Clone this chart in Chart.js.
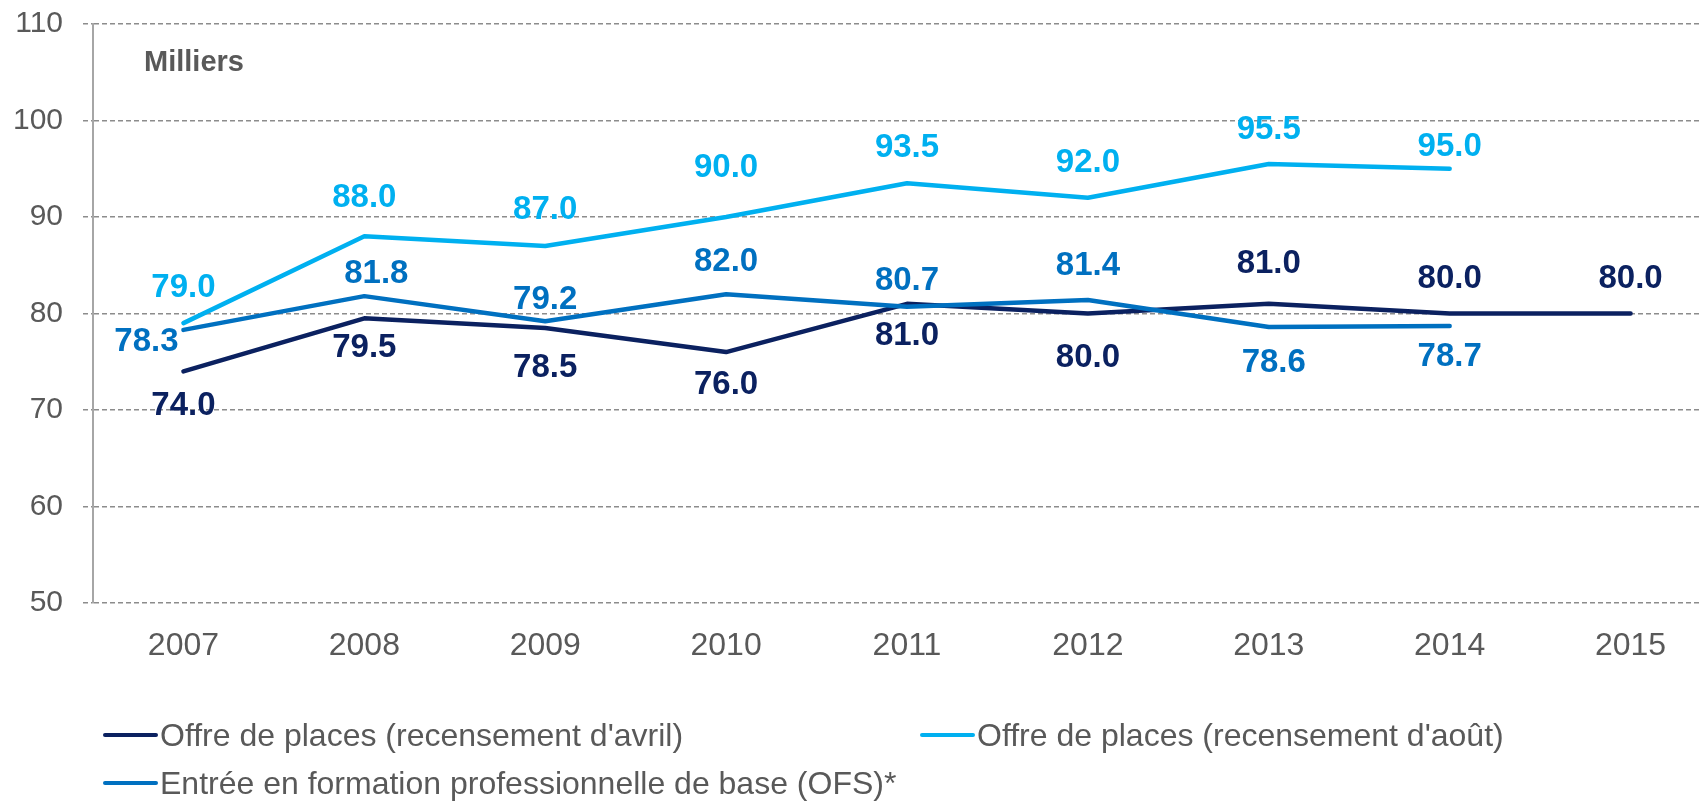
<!DOCTYPE html>
<html lang="fr">
<head>
<meta charset="utf-8">
<title>Offre de places</title>
<script src="https://cdn.jsdelivr.net/npm/chart.js@4"></script>
<style>
    html, body {
        margin: 0;
        padding: 0;
        background: #ffffff;
        overflow: hidden;
        width: 1701px;
        height: 801px;
        font-family: "Liberation Sans", Arial, sans-serif;
        color: #595959;
    }
    #wrap {
        position: absolute;
        left: 0;
        top: 0;
        width: 1721px;
        height: 801px;
    }
    #unit {
        position: absolute;
        left: 144px;
        top: 45px;
        font-size: 29px;
        font-weight: bold;
        color: #595959;
    }
    #customLegend {
        position: absolute;
        left: 103px;
        top: 711px;
        display: grid;
        grid-template-columns: 817px auto;
        grid-auto-rows: 48px;
    }
    .legend-item {
        display: flex;
        align-items: center;
        font-size: 32px;
        color: #595959;
        white-space: nowrap;
    }
    .legend-line {
        display: inline-block;
        width: 55px;
        height: 4px;
        border-radius: 2px;
        margin-right: 2px;
    }
</style>
</head>
<body>
<div id="wrap">
    <canvas id="lineChart" width="1721" height="801"></canvas>
</div>
<div id="unit">Milliers</div>
<div id="customLegend"></div>
<script>
var years = ["2007", "2008", "2009", "2010", "2011", "2012", "2013", "2014", "2015"];
var avrilData = [74.0, 79.5, 78.5, 76.0, 81.0, 80.0, 81.0, 80.0, 80.0];
var aoutData = [79.0, 88.0, 87.0, 90.0, 93.5, 92.0, 95.5, 95.0, null];
var ofsData = [78.3, 81.8, 79.2, 82.0, 80.7, 81.4, 78.6, 78.7, null];
var yTicks = [50, 60, 70, 80, 90, 100, 110];

var seriesNames = [
    "Offre de places (recensement d'avril)",
    "Offre de places (recensement d'août)",
    "Entrée en formation professionnelle de base (OFS)*"
];
var seriesColors = ["#0b2160", "#00b0f0", "#0070c0"];

// where each value label sits relative to its point (px)
var labelDy = [
    [35, 30, 40, 33, 32, 44, -40, -35, -35],
    [-35, -38, -36, -49, -35, -35, -34, -22, 0],
    [12, -22, -21, -32, -26, -34, 36, 31, 0]
];
var labelDx = [
    [0, 0, 0, 0, 0, 0, 0, 0, 0],
    [0, 0, 0, 0, 0, 0, 0, 0, 0],
    [-37, 12, 0, 0, 0, 0, 5, 0, 0]
];

var fontFamily = '"Liberation Sans", Arial, sans-serif';

var valueLabels = {
    id: 'valueLabels',
    afterDatasetsDraw: function (chart) {
        var ctx = chart.ctx;
        ctx.save();
        ctx.font = 'bold 33px ' + fontFamily;
        ctx.textAlign = 'center';
        ctx.textBaseline = 'middle';
        chart.data.datasets.forEach(function (ds, i) {
            var meta = chart.getDatasetMeta(i);
            ctx.fillStyle = ds.borderColor;
            meta.data.forEach(function (pt, j) {
                var v = ds.data[j];
                if (v === null || v === undefined) return;
                ctx.fillText(v.toFixed(1), pt.x + labelDx[i][j], pt.y + labelDy[i][j]);
            });
        });
        ctx.restore();
    }
};

var datasets = [avrilData, aoutData, ofsData].map(function (d, i) {
    return {
        label: seriesNames[i],
        data: d,
        borderColor: seriesColors[i],
        backgroundColor: seriesColors[i],
        borderWidth: 4.5,
        borderCapStyle: 'round',
        borderJoinStyle: 'round',
        pointRadius: 0,
        tension: 0,
        order: [2, 1, 0][i]
    };
});

var ctx = document.getElementById('lineChart').getContext('2d');
var lineChart = new Chart(ctx, {
    type: 'line',
    data: {
        labels: years,
        datasets: datasets
    },
    options: {
        responsive: false,
        animation: false,
        layout: {
            padding: { top: 24, right: 0, bottom: 0, left: 0 }
        },
        scales: {
            x: {
                offset: true,
                grid: { display: false, drawTicks: false },
                border: { display: false },
                ticks: {
                    color: '#595959',
                    font: { size: 32, family: fontFamily },
                    padding: 24,
                    maxRotation: 0,
                    autoSkip: false
                },
                afterFit: function (scale) { scale.height = 198; }
            },
            y: {
                min: 50,
                max: 110,
                afterBuildTicks: function (scale) {
                    scale.ticks = yTicks.map(function (v) { return { value: v }; });
                },
                grid: {
                    color: '#8c8c8c',
                    lineWidth: 1.5,
                    tickLength: 10,
                    tickColor: '#8c8c8c',
                    tickBorderDash: [5, 3]
                },
                border: {
                    display: true,
                    color: '#a6a6a6',
                    width: 2,
                    dash: [5, 3]
                },
                ticks: {
                    color: '#595959',
                    font: { size: 30, family: fontFamily, lineHeight: 0.1 },
                    padding: 20
                },
                afterFit: function (scale) { scale.width = 93; }
            }
        },
        plugins: {
            legend: { display: false },
            tooltip: { enabled: false },
            title: { display: false }
        }
    },
    plugins: [valueLabels]
});

// legend below the chart
var legend = document.getElementById('customLegend');
seriesNames.forEach(function (name, i) {
    var item = document.createElement('div');
    item.classList.add('legend-item');
    var line = document.createElement('span');
    line.classList.add('legend-line');
    line.style.backgroundColor = seriesColors[i];
    var text = document.createElement('span');
    text.textContent = name;
    item.appendChild(line);
    item.appendChild(text);
    legend.appendChild(item);
});
</script>
</body>
</html>
